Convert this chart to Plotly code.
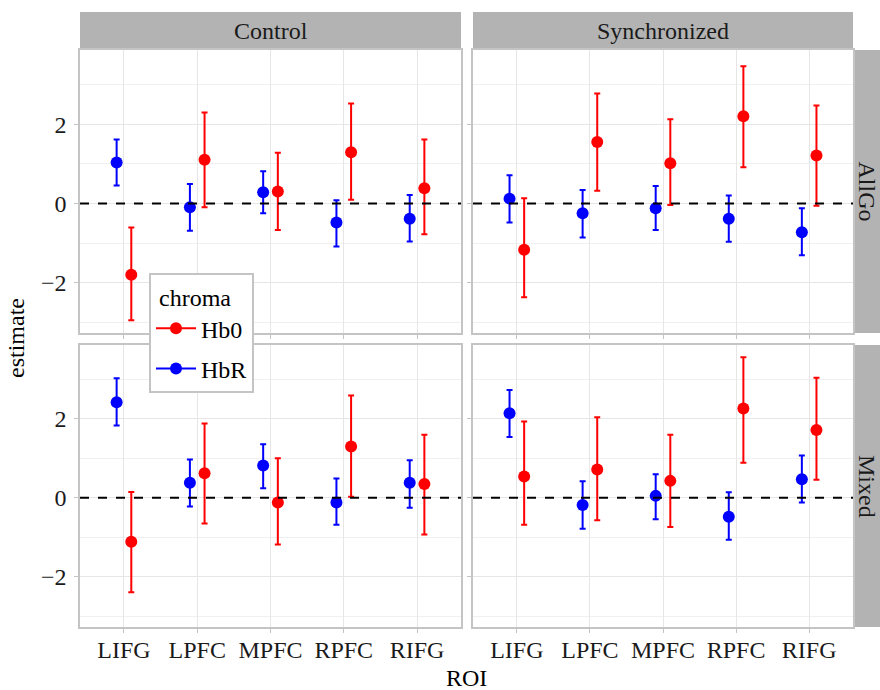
import plotly.graph_objects as go

# ---- data ----
rois = ["LIFG", "LPFC", "MPFC", "RPFC", "RIFG"]
conditions = ["Control", "Synchronized"]
tasks = ["AllGo", "Mixed"]

# estimates, upper, lower for each panel (task, condition)
hb0_est = {
    ("AllGo", "Control"): [-1.80, 1.10, 0.30, 1.29, 0.38],
    ("AllGo", "Synchronized"): [-1.17, 1.55, 1.01, 2.20, 1.21],
    ("Mixed", "Control"): [-1.11, 0.62, -0.12, 1.30, 0.35],
    ("Mixed", "Synchronized"): [0.54, 0.72, 0.43, 2.26, 1.72],
}
hb0_hi = {
    ("AllGo", "Control"): [-0.61, 2.29, 1.28, 2.52, 1.61],
    ("AllGo", "Synchronized"): [0.13, 2.77, 2.12, 3.46, 2.47],
    ("Mixed", "Control"): [0.15, 1.88, 1.00, 2.59, 1.60],
    ("Mixed", "Synchronized"): [1.93, 2.04, 1.60, 3.56, 3.04],
}
hb0_lo = {
    ("AllGo", "Control"): [-2.95, -0.10, -0.67, 0.09, -0.78],
    ("AllGo", "Synchronized"): [-2.37, 0.32, -0.04, 0.91, -0.06],
    ("Mixed", "Control"): [-2.39, -0.65, -1.18, 0.03, -0.93],
    ("Mixed", "Synchronized"): [-0.68, -0.57, -0.74, 0.89, 0.46],
}
hbr_est = {
    ("AllGo", "Control"): [1.03, -0.10, 0.28, -0.48, -0.39],
    ("AllGo", "Synchronized"): [0.12, -0.25, -0.12, -0.39, -0.73],
    ("Mixed", "Control"): [2.42, 0.38, 0.82, -0.12, 0.38],
    ("Mixed", "Synchronized"): [2.14, -0.18, 0.05, -0.48, 0.47],
}
hbr_hi = {
    ("AllGo", "Control"): [1.61, 0.49, 0.81, 0.08, 0.21],
    ("AllGo", "Synchronized"): [0.71, 0.34, 0.44, 0.20, -0.12],
    ("Mixed", "Control"): [3.03, 0.97, 1.36, 0.49, 0.95],
    ("Mixed", "Synchronized"): [2.73, 0.42, 0.60, 0.14, 1.07],
}
hbr_lo = {
    ("AllGo", "Control"): [0.45, -0.69, -0.25, -1.09, -0.96],
    ("AllGo", "Synchronized"): [-0.48, -0.86, -0.67, -0.97, -1.31],
    ("Mixed", "Control"): [1.83, -0.22, 0.24, -0.68, -0.25],
    ("Mixed", "Synchronized"): [1.54, -0.78, -0.54, -1.06, -0.12],
}

series = [
    ("Hb0", "#ff0000", 0.1, hb0_est, hb0_hi, hb0_lo),
    ("HbR", "#0000ff", -0.1, hbr_est, hbr_hi, hbr_lo),
]

W, H = 880, 690
FONT = "Liberation Serif"
FS = 24
col_px = [(80, 461), (473, 853)]
row_px = [(50, 333), (345, 627)]

fig = go.Figure()

def px2x(p):
    return p / W

def px2y(p):
    return 1 - p / H

axis_idx = 0
for r, task in enumerate(tasks):
    for c, cond in enumerate(conditions):
        axis_idx += 1
        sfx = "" if axis_idx == 1 else str(axis_idx)
        xa, ya = "x" + sfx, "y" + sfx
        xpos = list(range(1, len(rois) + 1))
        for name, color, off, est, hi, lo in series:
            e = est[(task, cond)]
            up = [h - v for h, v in zip(hi[(task, cond)], e)]
            dn = [v - l for v, l in zip(e, lo[(task, cond)])]
            fig.add_trace(go.Scatter(
                x=[x + off for x in xpos], y=e, mode="markers",
                marker=dict(color=color, size=12),
                error_y=dict(type="data", symmetric=False, array=up, arrayminus=dn,
                             color=color, thickness=2, width=3),
                showlegend=False, xaxis=xa, yaxis=ya, name=name,
            ))
        # zero line
        fig.add_trace(go.Scatter(
            x=[0.4, 5.6], y=[0, 0], mode="lines",
            line=dict(color="black", dash="dash", width=2),
            showlegend=False, hoverinfo="skip", xaxis=xa, yaxis=ya,
        ))
        x0, x1 = col_px[c]
        y0, y1 = row_px[r]
        common_grid = dict(showgrid=True, gridcolor="#e6e6e6", gridwidth=1.2,
                           showline=True, linecolor="#c4c4c4", linewidth=1.5, mirror=True,
                           zeroline=False, ticks="outside", ticklen=4, tickcolor="#c4c4c4",
                           tickfont=dict(family=FONT, size=FS, color="#1a1a1a"))
        fig.layout["xaxis" + sfx] = dict(
            domain=[px2x(x0), px2x(x1)], range=[0.4, 5.6], anchor=ya,
            tickmode="array", tickvals=xpos, ticktext=rois, ticklabelstandoff=-4,
            showticklabels=(r == 1), **common_grid)
        fig.layout["yaxis" + sfx] = dict(
            domain=[px2y(y1), px2y(y0)], range=[-3.27, 3.87], anchor=xa,
            tickmode="array", tickvals=[-2, 0, 2], ticktext=["\u22122", "0", "2"],
            ticklabelstandoff=3,
            minor=dict(tickvals=[-3, -1, 1, 3], showgrid=True, gridcolor="#f0f0f0",
                       ticks=""),
            showticklabels=(c == 0), **common_grid)

# legend dummy traces
for name, color, off, *_ in series:
    fig.add_trace(go.Scatter(x=[None], y=[None], mode="lines+markers", name=name,
                             legendgroup=name,
                             marker=dict(color=color, size=12), line=dict(color=color, width=2)))

shapes = []
annotations = []
STRIP = "#b3b3b3"
for c, cond in enumerate(conditions):
    x0, x1 = col_px[c]
    shapes.append(dict(type="rect", xref="paper", yref="paper",
                       x0=px2x(x0), x1=px2x(x1), y0=px2y(50), y1=px2y(12),
                       fillcolor=STRIP, line=dict(width=0), layer="below"))
    annotations.append(dict(text=cond, xref="paper", yref="paper",
                            x=px2x((x0 + x1) / 2), y=px2y(31), showarrow=False,
                            font=dict(family=FONT, size=FS, color="#1a1a1a"),
                            xanchor="center", yanchor="middle"))
for r, task in enumerate(tasks):
    y0, y1 = row_px[r]
    shapes.append(dict(type="rect", xref="paper", yref="paper",
                       x0=px2x(853), x1=1, y0=px2y(y1), y1=px2y(y0),
                       fillcolor=STRIP, line=dict(width=0), layer="below"))
    annotations.append(dict(text=task, xref="paper", yref="paper",
                            x=px2x(867), y=px2y((y0 + y1) / 2), showarrow=False,
                            textangle=90,
                            font=dict(family=FONT, size=FS, color="#1a1a1a"),
                            xanchor="center", yanchor="middle"))

annotations.append(dict(text="ROI", xref="paper", yref="paper", x=px2x(466), y=px2y(678),
                        showarrow=False, font=dict(family=FONT, size=FS, color="#000"),
                        xanchor="center", yanchor="middle"))
annotations.append(dict(text="estimate", xref="paper", yref="paper", x=px2x(16), y=px2y(338),
                        showarrow=False, textangle=-90,
                        font=dict(family=FONT, size=FS, color="#000"),
                        xanchor="center", yanchor="middle"))

fig.update_layout(
    width=W, height=H,
    margin=dict(l=0, r=0, t=0, b=0),
    paper_bgcolor="white", plot_bgcolor="white",
    shapes=shapes, annotations=annotations,
    showlegend=True,
    legend=dict(x=px2x(149), y=px2y(273), xanchor="left", yanchor="top",
                title=dict(text=" chroma", side="top",
                           font=dict(family=FONT, size=FS, color="#000")),
                font=dict(family=FONT, size=FS, color="#000"),
                bgcolor="white", bordercolor="#c4c4c4", borderwidth=2,
                itemwidth=40, tracegroupgap=6),
)

fig.write_html("out.html")
